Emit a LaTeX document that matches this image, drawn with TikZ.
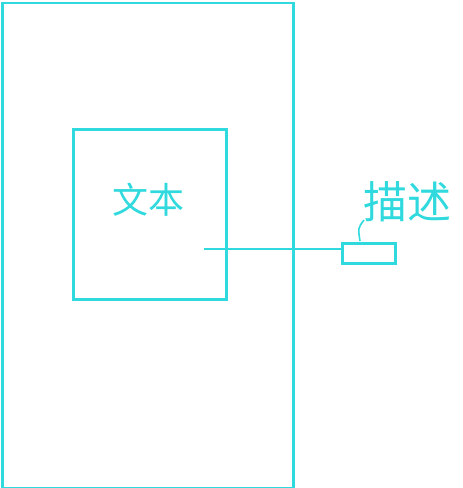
\documentclass[tikz,border=0pt]{standalone}
\usepackage{fontspec}
\newfontfamily\cjk{Noto Sans CJK SC}
\definecolor{cy}{HTML}{2FD9DD}
\begin{document}
\begin{tikzpicture}[x=1pt,y=-1pt,
  box/.style={draw=cy,line width=2.6pt},
  hand/.style={text=cy,font=\cjk\fontsize{#1}{#1}\selectfont,inner sep=0pt}]
\useasboundingbox (0,0) rectangle (463,488);
\node[box,minimum width=291pt,minimum height=485pt,anchor=north west] (outer) at (1,1.5) {};
\node[box,minimum width=153pt,minimum height=170pt,anchor=north west] (inner) at (72,128) {};
\node[box,minimum width=53pt,minimum height=20pt,anchor=north west] (tag) at (341,242) {};
\coordinate (start) at (204,249);
\draw[draw=cy,line width=2.6pt] (start) -- (tag.west |- start);
\node[hand=36] (txt) at (148,200) {文本};
\node[hand=44] (desc) at (407,202) {描述};
\coordinate (c1) at (364,220);
\draw[draw=cy,line width=1.6pt] (c1) .. controls (358,228) .. (360,241);
\end{tikzpicture}
\end{document}
